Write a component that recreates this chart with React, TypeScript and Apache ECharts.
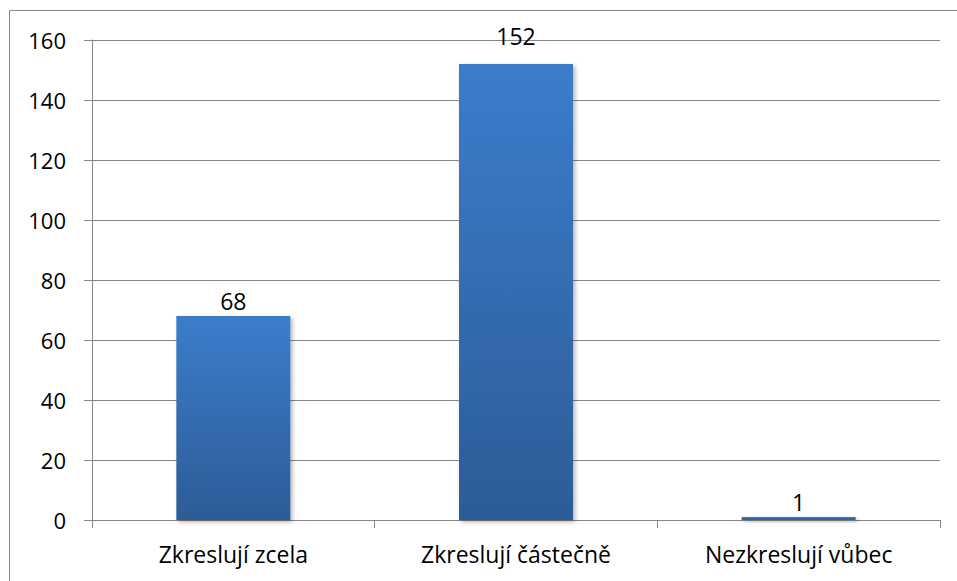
import React, { useEffect, useRef } from "react";
import * as echarts from "echarts";

const categories = ["Zkreslují zcela", "Zkreslují částečně", "Nezkreslují vůbec"];
const values = [68, 152, 1];
const yMin = 0;
const yMax = 160;
const yStep = 20;

export default function App() {
  const ref = useRef<HTMLDivElement>(null);
  useEffect(() => {
    if (!ref.current) return;
    const chart = echarts.init(ref.current, null, { renderer: "svg" });
    const font = "'Open Sans', Lato, sans-serif";
    chart.setOption({
      animation: false,
      backgroundColor: "#ffffff",
      grid: { left: 92, right: 17, top: 40, bottom: 61, containLabel: false },
      graphic: [
        {
          type: "rect",
          shape: { x: 9.5, y: 10.5, width: 1000, height: 700 },
          style: { fill: "none", stroke: "#8a8a8a", lineWidth: 1 },
          silent: true,
        },
      ],
      xAxis: {
        type: "category",
        data: categories,
        axisLine: { show: true, lineStyle: { color: "#868686", width: 1 } },
        axisTick: { show: true, length: 8, alignWithLabel: false, lineStyle: { color: "#868686" } },
        axisLabel: { color: "#000", fontSize: 23, fontFamily: font, margin: 22 },
        splitLine: { show: false },
      },
      yAxis: {
        type: "value",
        min: yMin,
        max: yMax,
        interval: yStep,
        axisLine: { show: true, lineStyle: { color: "#868686", width: 1 } },
        axisTick: { show: true, length: 8, lineStyle: { color: "#868686" } },
        axisLabel: { color: "#000", fontSize: 22, fontFamily: font, margin: 26 },
        splitLine: { show: true, lineStyle: { color: "#868686", width: 1 } },
      },
      series: [
        {
          type: "bar",
          data: values.map((v, i) =>
            i === 1 ? { value: v, label: { distance: 17 } } : { value: v }
          ),
          barWidth: 114,
          itemStyle: {
            color: new echarts.graphic.LinearGradient(0, 0, 0, 1, [
              { offset: 0, color: "#3b7dca" },
              { offset: 1, color: "#2c5c97" },
            ]),
            shadowBlur: 4,
            shadowOffsetX: 2,
            shadowOffsetY: 2,
            shadowColor: "rgba(0,0,0,0.3)",
          },
          label: {
            show: true,
            position: "top",
            distance: 4,
            color: "#000",
            fontSize: 23,
            fontFamily: font,
          },
        },
      ],
    });
    return () => chart.dispose();
  }, []);
  return (
    <div
      ref={ref}
      style={{ position: "fixed", left: 0, top: 0, width: 957, height: 581 }}
    />
  );
}
